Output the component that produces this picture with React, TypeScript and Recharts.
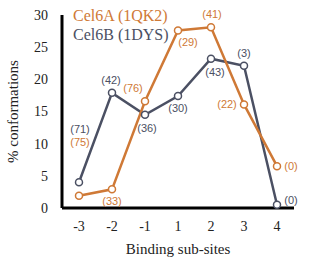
import React from 'react';
import { LineChart, Line, XAxis, YAxis, LabelList } from 'recharts';

const sites = ['-3', '-2', '-1', '1', '2', '3', '4'];
const cel6A = [1.9, 2.9, 16.6, 27.6, 28.1, 16.1, 6.5];
const cel6B = [4.0, 17.9, 14.5, 17.4, 23.2, 22.1, 0.5];
const cel6ALabels = ['(75)', '(33)', '(76)', '(29)', '(41)', '(22)', '(0)'];
const cel6BLabels = ['(71)', '(42)', '(36)', '(30)', '(43)', '(3)', '(0)'];
const yTicks = [0, 5, 10, 15, 20, 25, 30];

const ORANGE = '#CF7936';
const GRAY = '#4B5063';
const SERIF = 'Liberation Serif';
const SANS = 'Liberation Sans';

const offA: [number, number][] = [[1, -54], [0, 12], [-12, -13], [10, 12], [1, -13], [-17, 0], [14, 0]];
const offB: [number, number][] = [[1, -53], [-1, -13], [2, 13], [0, 12], [4, 13], [0, -13], [14, -5]];

const data = sites.map((s, i) => ({ site: s, a: cel6A[i], b: cel6B[i] }));

const makeLabel = (labels: string[], offs: [number, number][], color: string) => (props: any) => {
  const { x, y, index } = props;
  const [dx, dy] = offs[index];
  return (
    <text x={x + dx} y={y + dy} fill={color} fontSize={11} fontFamily={SANS} textAnchor="middle" dominantBaseline="central">
      {labels[index]}
    </text>
  );
};

export default function App() {
  return (
    <div style={{ position: 'absolute', left: 0, top: 0, width: 309, height: 274 }}>
      <LineChart width={309} height={274} data={data} margin={{ top: 15, right: 15, left: 0, bottom: 26 }}>
        <XAxis
          dataKey="site"
          padding={{ left: 17, right: 17 }}
          axisLine={{ stroke: '#000', strokeWidth: 3 }}
          tickLine={false}
          tickSize={0}
          tickMargin={13}
          height={40}
          tick={{ fill: '#222', fontSize: 14, fontFamily: SERIF }}
          label={{ value: 'Binding sub-sites', position: 'insideBottom', offset: -6, fill: '#222', fontSize: 15, fontFamily: SERIF }}
        />
        <YAxis
          domain={[0, 30]}
          ticks={yTicks}
          width={62}
          axisLine={{ stroke: '#000', strokeWidth: 3 }}
          tickLine={false}
          tickSize={0}
          tickMargin={14}
          tick={{ fill: '#222', fontSize: 14, fontFamily: SERIF }}
          label={{ value: '% conformations', angle: -90, position: 'insideLeft', offset: 13, fill: '#222', fontSize: 15, fontFamily: SERIF, style: { textAnchor: 'middle' } }}
        />
        <Line
          type="linear"
          dataKey="b"
          stroke={GRAY}
          strokeWidth={2.5}
          dot={{ r: 3.5, stroke: GRAY, strokeWidth: 1.5, fill: '#fff' }}
          isAnimationActive={false}
        >
          <LabelList dataKey="b" content={makeLabel(cel6BLabels, offB, GRAY)} />
        </Line>
        <Line
          type="linear"
          dataKey="a"
          stroke={ORANGE}
          strokeWidth={2.5}
          dot={{ r: 3.5, stroke: ORANGE, strokeWidth: 1.5, fill: '#fff' }}
          isAnimationActive={false}
        >
          <LabelList dataKey="a" content={makeLabel(cel6ALabels, offA, ORANGE)} />
        </Line>
      </LineChart>
      <div style={{ position: 'absolute', left: 73, top: 6, fontFamily: SERIF, fontSize: 16, lineHeight: '19px', whiteSpace: 'nowrap' }}>
        <div style={{ color: ORANGE }}>Cel6A (1QK2)</div>
        <div style={{ color: GRAY }}>Cel6B (1DYS)</div>
      </div>
    </div>
  );
}
